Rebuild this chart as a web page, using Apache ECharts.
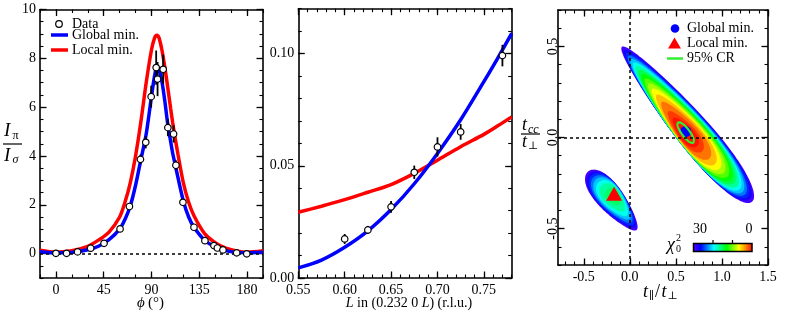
<!DOCTYPE html>
<html><head><meta charset="utf-8">
<script src="https://cdn.jsdelivr.net/npm/echarts@6/dist/echarts.min.js"></script>
<style>html,body{margin:0;padding:0;background:#fff}#c{width:791px;height:314px}</style>
</head><body><div id="c"></div>
<script>
const SERIF = '"Liberation Serif", "DejaVu Serif", serif';

// ---------- Panel (a): I_pi / I_sigma vs phi ----------
const phiDeg   = [0, 10, 20.4, 32.7, 45.3, 60.4, 69.2, 79.6, 84.6, 89.7, 94.4, 95.7, 101, 105.4, 110.8, 113, 119.6, 130, 140.3, 148.8, 152, 157.3, 170.2, 179.7];
const ratioVal = [0.01, 0.01, 0.07, 0.22, 0.42, 1.01, 1.93, 3.86, 4.56, 6.43, 7.62, 7.15, 7.55, 5.16, 4.9, 3.62, 2.1, 1.08, 0.53, 0.33, 0.23, 0.15, 0.03, -0.01];
const ratioErr = [0.03, 0.03, 0.03, 0.04, 0.05, 0.07, 0.1, 0.2, 0.25, 0.45, 0.7, 0.7, 0.6, 0.35, 0.35, 0.2, 0.12, 0.08, 0.05, 0.05, 0.04, 0.04, 0.03, 0.03];
const phiCurve    = [-15, 0, 15, 30, 40, 50, 60, 65, 70, 75, 80, 85, 90, 93, 95, 97, 100, 103, 105, 108, 110, 112, 115, 120, 125, 130, 140, 150, 160, 170, 180, 195];
const globalCurveA = [0.08, 0.03, 0.05, 0.16, 0.3, 0.57, 1.0, 1.4, 1.95, 2.8, 3.85, 4.9, 6.45, 7.3, 7.6, 7.55, 7.0, 6.1, 5.4, 4.6, 4.1, 3.7, 3.1, 2.15, 1.5, 1.08, 0.55, 0.28, 0.12, 0.05, 0.03, 0.05];
const localCurveA  = [0.14, 0.06, 0.12, 0.3, 0.55, 0.88, 1.5, 2.1, 2.9, 4.0, 5.4, 7.0, 8.35, 8.85, 8.95, 8.85, 8.3, 7.5, 6.9, 5.95, 5.35, 4.8, 4.05, 2.9, 2.1, 1.55, 0.82, 0.45, 0.22, 0.11, 0.06, 0.12];
const phiMajor   = [0, 45, 90, 135, 180];
const ratioMajor = [0, 2, 4, 6, 8, 10];

// ---------- Panel (b): vs L ----------
const Lval = [0.60, 0.625, 0.65, 0.675, 0.70, 0.725, 0.77];
const kVal = [0.0174, 0.0214, 0.0317, 0.0471, 0.0584, 0.0651, 0.0991];
const kErr = [0.0022, 0.0018, 0.0026, 0.003, 0.0043, 0.0035, 0.0048];
const Lcurve       = [0.55, 0.575, 0.60, 0.625, 0.65, 0.675, 0.70, 0.725, 0.75, 0.765, 0.78];
const globalCurveB = [0.0045, 0.008, 0.0137, 0.021, 0.0305, 0.042, 0.0555, 0.0705, 0.0875, 0.098, 0.109];
const localCurveB  = [0.0293, 0.032, 0.0349, 0.0382, 0.0416, 0.0466, 0.0525, 0.0585, 0.064, 0.0678, 0.0718];
const LMajor = [0.55, 0.60, 0.65, 0.70, 0.75];
const kMajor = [0.00, 0.05, 0.10];

// ---------- Panel (c): chi^2 map ----------
const chi2Stops  = [0, 3.3, 6.9, 12.9, 19.5, 26, 30];
const chi2Colors = ['#ff0000', '#ff8000', '#ffff00', '#00ff00', '#00ffff', '#0000ff', '#5a00ff'];
// region axes (half-length vector u, half-width vector v, width skew k)
const blob1Axes = { u: [0.706, -0.4255], v: [0.1398, 0.0593], k: 0.3 };
const blob1Min = 0;
// contour rows: [chi2 level, centre x, centre y, size along u, size along v]
const blob1Contours = [
  [30, 0.620, 0.0725, 1.000, 1.000], [28, 0.619, 0.0707, 0.966, 0.983], [26, 0.618, 0.0689, 0.931, 0.965],
  [24, 0.617, 0.0669, 0.894, 0.946], [22, 0.616, 0.0649, 0.856, 0.925], [20, 0.615, 0.0628, 0.816, 0.904],
  [18, 0.614, 0.0607, 0.775, 0.880], [16, 0.613, 0.0583, 0.730, 0.855], [14, 0.612, 0.0559, 0.683, 0.826],
  [12, 0.611, 0.0532, 0.632, 0.795], [10, 0.609, 0.0503, 0.577, 0.760], [8, 0.608, 0.0471, 0.516, 0.718],
  [6, 0.606, 0.0435, 0.447, 0.669], [4, 0.604, 0.0392, 0.365, 0.604], [2, 0.601, 0.0335, 0.258, 0.508],
  [1, 0.600, 0.0296, 0.183, 0.428]
];
const blob2Axes = { u: [0.263, -0.1604], v: [0.1087, 0.0455], k: -0.3 };
const blob2Min = 15;
const blob2Contours = [
  [30, -0.190, -0.347, 1.000, 1.000], [28, -0.189, -0.345, 0.931, 0.965], [26, -0.188, -0.343, 0.856, 0.925],
  [24, -0.186, -0.341, 0.775, 0.880], [22, -0.185, -0.338, 0.683, 0.826], [20, -0.183, -0.336, 0.577, 0.760],
  [18, -0.181, -0.332, 0.447, 0.669], [16, -0.178, -0.327, 0.258, 0.508]
];
const globalMinPt = [0.606, 0.033];
const localMinPt  = [-0.171, -0.309];
const cr95 = { c: [0.606, 0.027], u: [0.0815, -0.0549], v: [0.0348, 0.0132] };
const tparMajor = [-0.5, 0.0, 0.5, 1.0, 1.5];
const tccMajor  = [-0.5, 0.0, 0.5];

// ---------- helpers ----------
function seq(a, b, st) { const out = []; const s0 = Math.ceil(a / st - 1e-9); const s1 = Math.floor(b / st + 1e-9); for (let i = s0; i <= s1; i++) out.push(+(i * st).toFixed(6)); return out; }
function hex2rgb(h) { return [parseInt(h.slice(1,3),16), parseInt(h.slice(3,5),16), parseInt(h.slice(5,7),16)]; }
function chiColor(v) {
  v = Math.max(0, Math.min(30, v));
  for (let i = 0; i < chi2Stops.length - 1; i++) {
    if (v <= chi2Stops[i+1]) {
      const t = (v - chi2Stops[i]) / (chi2Stops[i+1] - chi2Stops[i]);
      const a = hex2rgb(chi2Colors[i]), b = hex2rgb(chi2Colors[i+1]);
      return 'rgb(' + a.map((x, k) => Math.round(x + (b[k] - x) * t)).join(',') + ')';
    }
  }
  return chi2Colors[chi2Colors.length - 1];
}

function makeAxes(dim, grid, min, max, major, minorStep, label) {
  const pos = dim === 'x' ? ['bottom', 'top'] : ['left', 'right'];
  const minor = seq(min, max, minorStep);
  const line = { show: true, onZero: false, lineStyle: { color: '#000', width: 1.6 } };
  const noLine = { show: false, onZero: false };
  const common = { type: 'value', gridIndex: grid, min: min, max: max, splitLine: { show: false } };
  const mt = { show: true, inside: true, length: 6.5, customValues: major, lineStyle: { color: '#000', width: 1.3 } };
  const nt = { show: true, inside: true, length: 3.5, customValues: minor, lineStyle: { color: '#000', width: 1.1 } };
  return [
    Object.assign({}, common, { position: pos[0], axisLine: line, axisTick: mt,
      axisLabel: Object.assign({ show: true, customValues: major, color: '#000', fontFamily: SERIF, fontSize: 14, margin: 4 }, label) }),
    Object.assign({}, common, { position: pos[0], axisLine: noLine, axisTick: nt, axisLabel: { show: false } }),
    Object.assign({}, common, { position: pos[1], axisLine: line, axisTick: mt, axisLabel: { show: false } }),
    Object.assign({}, common, { position: pos[1], axisLine: noLine, axisTick: nt, axisLabel: { show: false } })
  ];
}

function errRender(params, api) {
  const x = api.value(0);
  const a = api.coord([x, api.value(1)]), b = api.coord([x, api.value(2)]);
  return { type: 'line', shape: { x1: a[0], y1: a[1], x2: b[0], y2: b[1] }, style: { stroke: '#000', lineWidth: 1.8 } };
}
function ellipsePts(api, cx, cy, su, sv, u, v, k) {
  const pts = [];
  for (let j = 0; j < 144; j++) {
    const t = 2 * Math.PI * j / 144, c = Math.cos(t), sn = Math.sin(t);
    const a = su * c, b = sv * sn * (1 + (k || 0) * c);
    pts.push(api.coord([cx + u[0] * a + v[0] * b, cy + u[1] * a + v[1] * b]));
  }
  return pts;
}
function blobRender(rows, axes, minVal) {
  return function (params, api) {
    const i = params.dataIndex;
    const L = rows[i][0];
    const next = i + 1 < rows.length ? rows[i + 1][0] : minVal;
    const pts = ellipsePts(api, api.value(1), api.value(2), api.value(3), api.value(4), axes.u, axes.v, axes.k);
    return { type: 'polygon', shape: { points: pts }, style: { fill: chiColor((L + next) / 2) } };
  };
}

const lineSer = (name, xi, data, color, z) => ({
  name: name, type: 'line', xAxisIndex: xi, yAxisIndex: xi, data: data, smooth: 0.3, showSymbol: false, symbol: 'none',
  lineStyle: { color: color, width: 3.5 }, itemStyle: { color: color }, z: z, silent: true
});
const dotted = { color: '#000', width: 1.5, type: [3, 3] };
function txt(x, y, text, size, extra) {
  extra = extra || {};
  const font = (extra.italic ? 'italic ' : '') + size + 'px ' + SERIF;
  return { type: 'text', x: x, y: y, style: { text: text, font: font, fill: '#000', align: extra.align || 'left', verticalAlign: 'middle' } };
}

const option = {
  animation: false,
  backgroundColor: '#fff',
  grid: [
    { left: 40, top: 9.5, width: 223, height: 268.5 },
    { left: 298.3, top: 8.7, width: 213.4, height: 269.3 },
    { left: 558, top: 10, width: 210, height: 255 }
  ],
  xAxis: [].concat(
    makeAxes('x', 0, -15, 195, phiMajor, 15, { margin: 5 }),
    makeAxes('x', 1, 0.55, 0.78, LMajor, 0.01, { margin: 5, formatter: v => v.toFixed(2) }),
    makeAxes('x', 2, -0.78, 1.5, tparMajor, 0.1, { margin: 5, formatter: v => v.toFixed(1) })
  ),
  yAxis: [].concat(
    makeAxes('y', 0, -1, 10, ratioMajor, 0.5, { margin: 4 }),
    makeAxes('y', 1, 0, 0.12, kMajor, 0.01, { margin: 4, formatter: v => v.toFixed(2) }),
    makeAxes('y', 2, -0.7, 0.7, tccMajor, 0.1, { margin: -2, rotate: 90, formatter: v => v.toFixed(1) })
  ),
  series: [
    // panel a
    Object.assign(lineSer('Local min.', 0, phiCurve.map((p, i) => [p, localCurveA[i]]), '#ff0000', 2), {
      markLine: { silent: true, symbol: ['none', 'none'], label: { show: false }, lineStyle: dotted, data: [{ yAxis: 0 }] }
    }),
    lineSer('Global min.', 0, phiCurve.map((p, i) => [p, globalCurveA[i]]), '#0000ff', 3),
    { type: 'custom', xAxisIndex: 0, yAxisIndex: 0, renderItem: errRender, encode: { x: 0, y: [1, 2] }, z: 4,
      data: phiDeg.map((p, i) => [p, ratioVal[i] - ratioErr[i], ratioVal[i] + ratioErr[i]]) },
    { name: 'Data', type: 'scatter', xAxisIndex: 0, yAxisIndex: 0, symbol: 'circle', symbolSize: 6.5, z: 5,
      itemStyle: { color: '#fff', borderColor: '#000', borderWidth: 1.2, opacity: 1 },
      data: phiDeg.map((p, i) => [p, ratioVal[i]]) },
    // panel b
    lineSer('Local min. b', 4, Lcurve.map((p, i) => [p, localCurveB[i]]), '#ff0000', 2),
    lineSer('Global min. b', 4, Lcurve.map((p, i) => [p, globalCurveB[i]]), '#0000ff', 3),
    { type: 'custom', xAxisIndex: 4, yAxisIndex: 4, renderItem: errRender, encode: { x: 0, y: [1, 2] }, z: 4,
      data: Lval.map((p, i) => [p, kVal[i] - kErr[i], kVal[i] + kErr[i]]) },
    { type: 'scatter', xAxisIndex: 4, yAxisIndex: 4, symbol: 'circle', symbolSize: 6.5, z: 5,
      itemStyle: { color: '#fff', borderColor: '#000', borderWidth: 1.2, opacity: 1 },
      data: Lval.map((p, i) => [p, kVal[i]]) },
    // panel c
    { type: 'custom', xAxisIndex: 8, yAxisIndex: 8, encode: { x: 1, y: 2 }, z: 1,
      renderItem: blobRender(blob1Contours, blob1Axes, blob1Min), data: blob1Contours },
    { type: 'custom', xAxisIndex: 8, yAxisIndex: 8, encode: { x: 1, y: 2 }, z: 1,
      renderItem: blobRender(blob2Contours, blob2Axes, blob2Min), data: blob2Contours },
    { name: 'Global min. c', type: 'scatter', xAxisIndex: 8, yAxisIndex: 8, symbol: 'circle', symbolSize: 11, z: 3,
      itemStyle: { color: '#0000ff', opacity: 1 }, data: [globalMinPt] },
    { type: 'custom', xAxisIndex: 8, yAxisIndex: 8, encode: { x: 0, y: 1 }, z: 4, data: [cr95.c],
      renderItem: function (params, api) {
        const pts = ellipsePts(api, api.value(0), api.value(1), 1, 1, cr95.u, cr95.v, 0);
        return { type: 'polygon', shape: { points: pts }, style: { fill: null, stroke: '#33ee33', lineWidth: 2.2 } };
      },
      markLine: { silent: true, symbol: ['none', 'none'], label: { show: false }, lineStyle: dotted, data: [{ xAxis: 0 }, { yAxis: 0 }] } },
    { name: 'Local min. c', type: 'scatter', xAxisIndex: 8, yAxisIndex: 8, symbol: 'triangle', symbolSize: [16, 14], z: 5,
      itemStyle: { color: '#ff0000', opacity: 1 }, data: [localMinPt] }
  ],
  graphic: [
    // legend panel a
    { type: 'circle', shape: { cx: 59, cy: 24, r: 3.3 }, style: { fill: '#fff', stroke: '#000', lineWidth: 1.2 } },
    txt(72, 24, 'Data', 14),
    { type: 'line', shape: { x1: 51, y1: 35, x2: 68, y2: 35 }, style: { stroke: '#0000ff', lineWidth: 3.5 } },
    txt(72, 35, 'Global min.', 14),
    { type: 'line', shape: { x1: 51, y1: 50, x2: 68, y2: 50 }, style: { stroke: '#ff0000', lineWidth: 3.5 } },
    txt(72, 50, 'Local min.', 14),
    // y name panel a
    txt(4, 131, 'I', 19, { italic: true }),
    txt(12.5, 135.5, 'π', 12),
    { type: 'line', shape: { x1: 3, y1: 144, x2: 22, y2: 144 }, style: { stroke: '#000', lineWidth: 1.2 } },
    txt(4, 156, 'I', 19, { italic: true }),
    txt(12.5, 160, 'σ', 12, { italic: true }),
    // x name panel a
    txt(137, 303, 'ϕ', 15, { italic: true }),
    txt(148, 303, '(°)', 15),
    // x name panel b
    { type: 'text', x: 409, y: 303, style: { text: '{i|L}{n| in (0.232 0 }{i|L}{n|) (r.l.u.)}', align: 'center', verticalAlign: 'middle',
      rich: { i: { font: 'italic 14px ' + SERIF, fill: '#000' }, n: { font: '14px ' + SERIF, fill: '#000' } } } },
    // x name panel c
    txt(643, 292, 't', 18, { italic: true }),
    txt(649, 296.5, '∥', 11),
    txt(655, 292, '/', 18),
    txt(661.5, 292, 't', 18, { italic: true }),
    txt(667.5, 296.5, '⊥', 11),
    // y name panel c
    txt(522, 125, 't', 18, { italic: true }),
    txt(528, 129.5, 'cc', 12, { italic: true }),
    { type: 'line', shape: { x1: 521, y1: 134, x2: 540, y2: 134 }, style: { stroke: '#000', lineWidth: 1.2 } },
    txt(522, 142, 't', 18, { italic: true }),
    txt(528, 146, '⊥', 11),
    // legend panel c
    { type: 'circle', shape: { cx: 675, cy: 28.5, r: 4.3 }, style: { fill: '#0000ff' } },
    txt(687, 28.5, 'Global min.', 14),
    { type: 'polygon', shape: { points: [[674.5, 37.5], [681, 48.5], [668, 48.5]] }, style: { fill: '#ff0000' } },
    txt(687, 43.5, 'Local min.', 14),
    { type: 'line', shape: { x1: 667, y1: 58.5, x2: 683, y2: 58.5 }, style: { stroke: '#33ee33', lineWidth: 2.5 } },
    txt(687, 58.5, '95% CR', 14),
    // colour bar
    { type: 'rect', shape: { x: 693.5, y: 243.5, width: 58.5, height: 8 },
      style: { stroke: '#000', lineWidth: 1.5,
        fill: new echarts.graphic.LinearGradient(0, 0, 1, 0, chi2Stops.map((c, i) => ({ offset: (30 - c) / 30, color: chi2Colors[i] })).reverse()) } },
    { type: 'line', shape: { x1: 713, y1: 240, x2: 713, y2: 243.5 }, style: { stroke: '#000', lineWidth: 1.2 } },
    { type: 'line', shape: { x1: 732.5, y1: 240, x2: 732.5, y2: 243.5 }, style: { stroke: '#000', lineWidth: 1.2 } },
    txt(693, 229.5, '30', 14),
    txt(752.5, 229.5, '0', 14, { align: 'right' }),
    txt(667, 245.5, 'χ', 18, { italic: true }),
    txt(676, 238.5, '2', 10),
    txt(676, 249, '0', 10)
  ]
};

const chart = echarts.init(document.getElementById('c'), null, { renderer: 'canvas' });
chart.setOption(option);
</script>
</body></html>
